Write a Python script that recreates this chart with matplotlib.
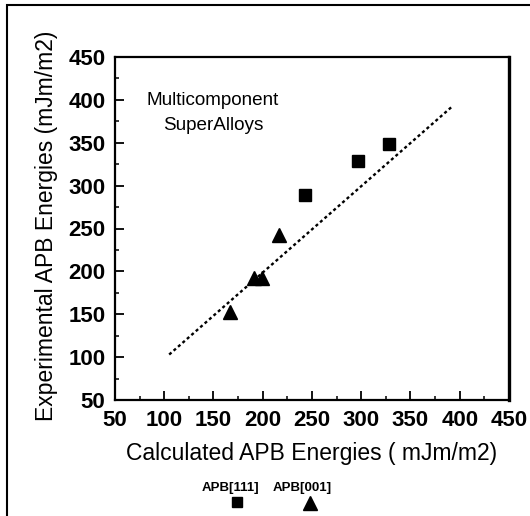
import matplotlib
matplotlib.use("Agg")
import matplotlib.pyplot as plt
from matplotlib.lines import Line2D
from matplotlib.patches import Rectangle

# Data
apb111_calc = [243, 297, 328]
apb111_exp = [289, 329, 349]
apb001_calc = [167, 191, 199, 216]
apb001_exp = [153, 192, 192, 242]
fit_x = [105, 393]
fit_y = [103, 393]
ticks = [50, 100, 150, 200, 250, 300, 350, 400, 450]
minor_ticks = [75, 125, 175, 225, 275, 325, 375, 425]

W, H = 530, 516
fig = plt.figure(figsize=(W/100, H/100), dpi=100)
ax = fig.add_axes([115/W, 1-400/H, (509-115)/W, (400-57)/H])

ax.plot(fit_x, fit_y, color='black', lw=1.7, linestyle=(0, (1.3, 1.2)))
ax.plot(apb111_calc, apb111_exp, 's', color='black', ms=8.4, linestyle='none')
ax.plot(apb001_calc, apb001_exp, '^', color='black', ms=10.5, linestyle='none')

ax.set_xlim(50, 450)
ax.set_ylim(50, 450)
ax.set_xticks(ticks)
ax.set_yticks(ticks)
ax.set_xticks(minor_ticks, minor=True)
ax.set_yticks(minor_ticks, minor=True)
ax.tick_params(which='major', direction='in', length=6.5, width=1.3)
ax.tick_params(which='minor', direction='in', length=3, width=1.1)
ax.tick_params(axis='x', which='major', labelsize=16, pad=7)
ax.tick_params(axis='y', which='major', labelsize=16, pad=7)
for lab in ax.get_xticklabels() + ax.get_yticklabels():
    lab.set_fontweight('bold')
    lab.set_family('Liberation Sans')
for s in ax.spines.values():
    s.set_linewidth(1.6)
ax.spines['right'].set_linewidth(2.4)

ax.set_xlabel('Calculated APB Energies ( mJm/m2)', family='Liberation Sans', fontsize=16.5)
ax.set_ylabel('Experimental APB Energies (mJm/m2)', family='Liberation Sans', fontsize=16.5)
ax.xaxis.set_label_coords(0.5, 1-(453-57)/(400-57), transform=ax.transAxes)
ax.xaxis.label.set_va('center')
ax.yaxis.set_label_coords((46-115)/(509-115), 1-(226-57)/(400-57), transform=ax.transAxes)
ax.yaxis.label.set_va('center')

ax.text((213-115)/(509-115), 1-(113-57)/(400-57), 'Multicomponent\nSuperAlloys',
        transform=ax.transAxes, ha='center', va='center', family='Liberation Sans',
        fontsize=13.6, linespacing=1.55)

# Legend below the axes
fig.text(230/W, 1-488/H, 'APB[111]', ha='center', va='center', fontsize=9.5,
         fontweight='bold', family='Liberation Sans')
fig.text(302/W, 1-488/H, 'APB[001]', ha='center', va='center', fontsize=9.5,
         fontweight='bold', family='Liberation Sans')
fig.add_artist(Line2D([237/W], [1-502/H], marker='s', color='black', ms=7, linestyle='none'))
fig.add_artist(Line2D([310/W], [1-503/H], marker='^', color='black', ms=9.5, linestyle='none'))

# Figure frame (top and left edges visible)
fig.add_artist(Rectangle((7/W, -0.05), 1.1, 1-5/H+0.05, transform=fig.transFigure,
                         fill=False, edgecolor='black', lw=1.5))

fig.savefig('out.png', dpi=100)
